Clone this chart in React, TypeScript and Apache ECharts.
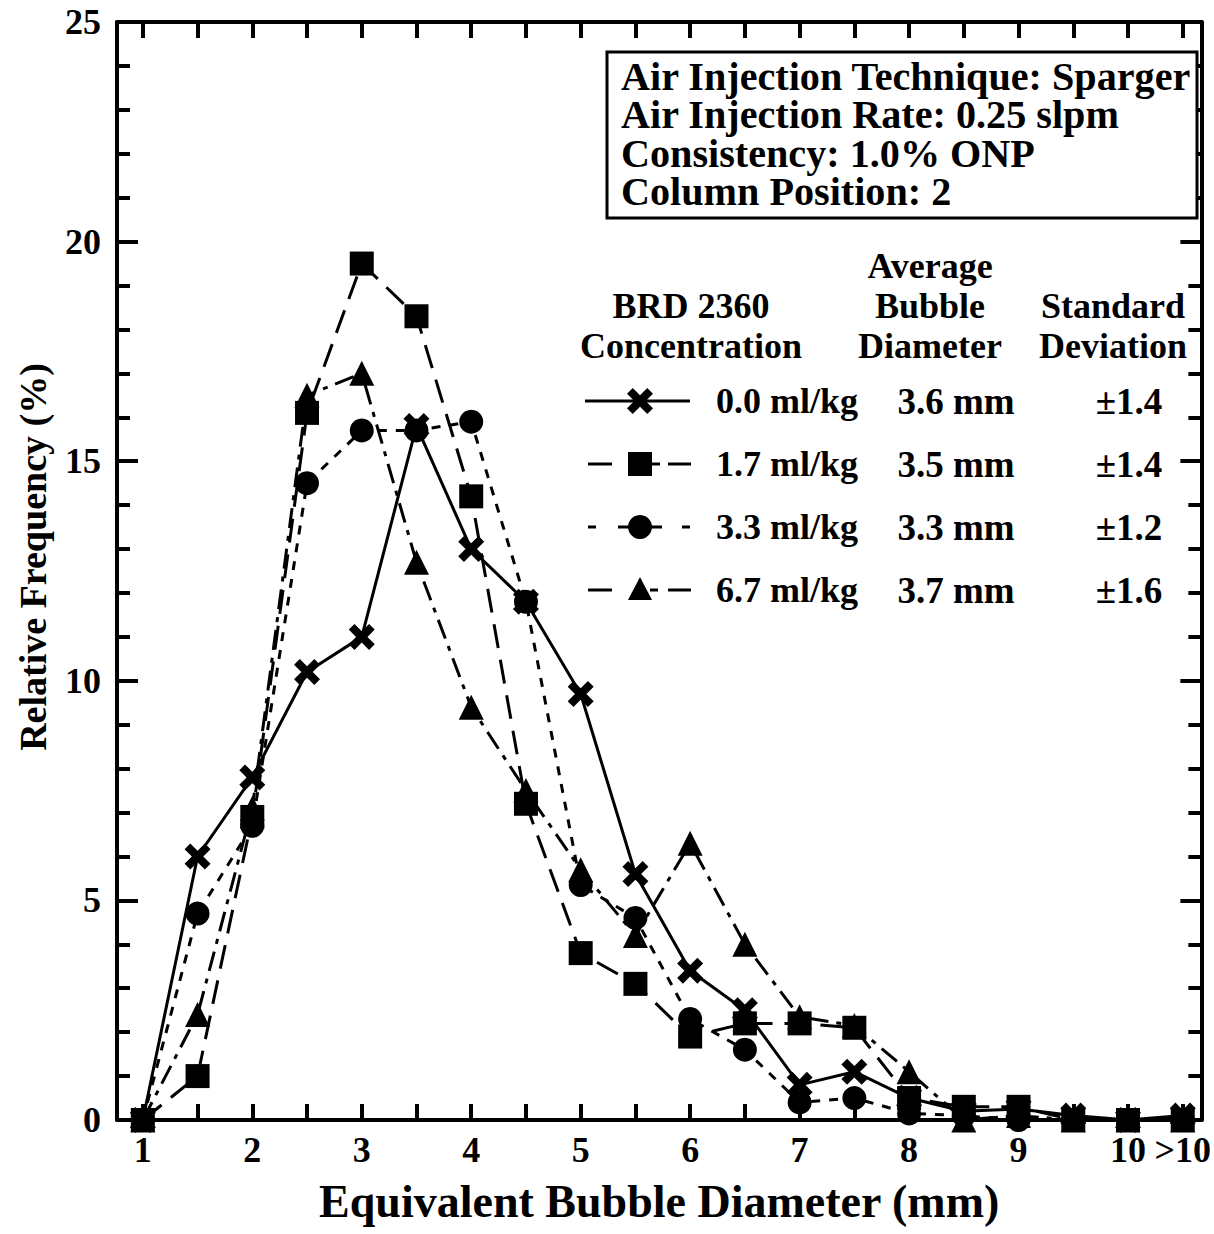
import React, { useEffect, useRef } from "react";
import * as echarts from "echarts";

const xValues = [1, 1.5, 2, 2.5, 3, 3.5, 4, 4.5, 5, 5.5, 6, 6.5, 7, 7.5, 8, 8.5, 9, 9.5, 10, 10.5];
const conc00 = [0, 6.0, 7.8, 10.2, 11.0, 15.8, 13.0, 11.8, 9.7, 5.6, 3.4, 2.5, 0.8, 1.1, 0.5, 0.2, 0.25, 0.1, 0, 0.1];
const conc17 = [0, 1.0, 6.9, 16.1, 19.5, 18.3, 14.2, 7.2, 3.8, 3.1, 1.9, 2.2, 2.2, 2.1, 0.5, 0.3, 0.3, 0, 0, 0];
const conc33 = [0, 4.7, 6.7, 14.5, 15.7, 15.7, 15.9, 11.8, 5.35, 4.6, 2.3, 1.6, 0.4, 0.5, 0.15, 0.1, 0, 0, 0, 0];
const conc67 = [0, 2.4, 7.1, 16.5, 17.0, 12.7, 9.4, 7.5, 5.7, 4.2, 6.3, 4.0, 2.35, 2.15, 1.1, 0, 0.1, 0, 0, 0];

const xTickValues = [1, 1.5, 2, 2.5, 3, 3.5, 4, 4.5, 5, 5.5, 6, 6.5, 7, 7.5, 8, 8.5, 9, 9.5, 10, 10.5];
const xLabelValues = [1, 2, 3, 4, 5, 6, 7, 8, 9, 10, 10.5];
const xLabelTexts = ["1", "2", "3", "4", "5", "6", "7", "8", "9", "10", ">10"];

const seriesNames = ["0.0 ml/kg", "1.7 ml/kg", "3.3 ml/kg", "6.7 ml/kg"];
const avgDiameters = ["3.6 mm", "3.5 mm", "3.3 mm", "3.7 mm"];
const stdDevs = ["\u00b11.4", "\u00b11.4", "\u00b11.2", "\u00b11.6"];
const infoLines = [
  "Air Injection Technique: Sparger",
  "Air Injection Rate: 0.25 slpm",
  "Consistency: 1.0% ONP",
  "Column Position: 2",
];

const FONT = '"Liberation Serif", "Times New Roman", Times, serif';
const X_PATH = "path://M0,2.2L2.2,0L5,2.8L7.8,0L10,2.2L7.2,5L10,7.8L7.8,10L5,7.2L2.2,10L0,7.8L2.8,5Z";

function xPoints(cx: number, cy: number, s: number) {
  const pts = [[0, 2.2], [2.2, 0], [5, 2.8], [7.8, 0], [10, 2.2], [7.2, 5], [10, 7.8], [7.8, 10], [5, 7.2], [2.2, 10], [0, 7.8], [2.8, 5]];
  return pts.map(([a, b]) => [cx + (a - 5) * s / 10, cy + (b - 5) * s / 10]);
}

export default function App() {
  const ref = useRef<HTMLDivElement>(null);
  useEffect(() => {
    if (!ref.current) return;
    const chart = echarts.init(ref.current, undefined, { renderer: "svg" });
    const mk = (vals: number[]) => xValues.map((x, i) => [x, vals[i]]);
    const black = "#000";
    const xMin = 0.764;
    const xMax = 10.67;
    const labelStyle = { fontFamily: FONT, fontWeight: "bold" as const, fontSize: 36, color: black };

    const legendRowsY = [401, 464, 527, 590];
    const graphics: any[] = [];
    // y axis title
    graphics.push({
      type: "text",
      x: 33,
      y: 557,
      rotation: Math.PI / 2,
      style: {
        text: "Relative Frequency (%)",
        font: `bold 38px ${FONT}`,
        fill: black,
        textAlign: "center",
        textVerticalAlign: "middle",
      },
      z: 11,
    });
    // info box
    graphics.push({
      type: "rect",
      shape: { x: 607, y: 52, width: 590, height: 166 },
      style: { fill: "#fff", stroke: black, lineWidth: 3 },
      z: 10,
    });
    infoLines.forEach((t, i) => {
      graphics.push({
        type: "text",
        x: 621,
        y: 77 + i * 38.5,
        style: { text: t, font: `bold 39px ${FONT}`, fill: black, textAlign: "left", textVerticalAlign: "middle" },
        scaleX: 1.03,
        z: 11,
      });
    });
    const header = (t: string, x: number, y: number) =>
      graphics.push({
        type: "text",
        x,
        y,
        style: { text: t, font: `bold 36px ${FONT}`, fill: black, textAlign: "center", textVerticalAlign: "middle" },
        z: 11,
      });
    header("Average", 930, 266);
    header("BRD 2360", 691, 306);
    header("Bubble", 930, 306);
    header("Standard", 1113, 306);
    header("Concentration", 691, 346);
    header("Diameter", 930, 346);
    header("Deviation", 1113, 346);

    const seg = (x1: number, x2: number, y: number) =>
      graphics.push({ type: "line", shape: { x1, y1: y, x2, y2: y }, style: { stroke: black, lineWidth: 3 }, z: 11 });

    legendRowsY.forEach((y, i) => {
      if (i === 0) {
        seg(585, 690, y);
        graphics.push({ type: "polygon", shape: { points: xPoints(640, y, 26) }, style: { fill: black }, z: 12 });
      } else if (i === 1) {
        seg(588, 612, y);
        seg(650, 660, y);
        seg(668, 691, y);
        graphics.push({ type: "rect", shape: { x: 628, y: y - 12, width: 24, height: 24 }, style: { fill: black }, z: 12 });
      } else if (i === 2) {
        seg(588, 596, y);
        seg(618, 662, y);
        seg(682, 690, y);
        graphics.push({ type: "circle", shape: { cx: 640, cy: y, r: 12 }, style: { fill: black }, z: 12 });
      } else {
        seg(588, 612, y);
        seg(650, 658, y);
        seg(668, 691, y);
        graphics.push({
          type: "polygon",
          shape: { points: [[640, y - 13], [628, y + 10], [652, y + 10]] },
          style: { fill: black },
          z: 12,
        });
      }
      graphics.push({
        type: "text",
        x: 716,
        y,
        style: { text: seriesNames[i], font: `bold 36px ${FONT}`, fill: black, textAlign: "left", textVerticalAlign: "middle" },
        z: 11,
      });
      graphics.push({
        type: "text",
        x: 956,
        y,
        style: { text: avgDiameters[i], font: `bold 37px ${FONT}`, fill: black, textAlign: "center", textVerticalAlign: "middle" },
        z: 11,
      });
      graphics.push({
        type: "text",
        x: 1129,
        y,
        style: { text: stdDevs[i], font: `bold 37px ${FONT}`, fill: black, textAlign: "center", textVerticalAlign: "middle" },
        z: 11,
      });
    });

    const xFormatter = (v: number) => {
      const idx = xLabelValues.findIndex((lv) => Math.abs(lv - v) < 1e-6);
      return idx >= 0 ? xLabelTexts[idx] : "";
    };

    const option: any = {
      animation: false,
      backgroundColor: "#fff",
      grid: { left: 117, right: 6, top: 22, bottom: 114, containLabel: false },
      xAxis: [
        {
          type: "value",
          min: xMin,
          max: xMax,
          position: "bottom",
          name: "Equivalent Bubble Diameter (mm)",
          nameLocation: "middle",
          nameGap: 58,
          nameTextStyle: { fontFamily: FONT, fontWeight: "bold", fontSize: 46, color: black },
          axisLine: { show: true, onZero: false, lineStyle: { color: black, width: 4 } },
          axisTick: { show: true, inside: true, length: 16, customValues: xTickValues, lineStyle: { color: black, width: 4 } },
          axisLabel: { ...labelStyle, margin: 12, customValues: xLabelValues, formatter: xFormatter },
          splitLine: { show: false },
        },
        {
          type: "value",
          min: xMin,
          max: xMax,
          position: "top",
          axisLine: { show: true, onZero: false, lineStyle: { color: black, width: 4 } },
          axisTick: { show: true, inside: true, length: 16, customValues: xTickValues, lineStyle: { color: black, width: 4 } },
          axisLabel: { show: false },
          splitLine: { show: false },
        },
      ],
      yAxis: [
        {
          type: "value",
          min: 0,
          max: 25,
          interval: 5,
          position: "left",
          axisLine: { show: true, onZero: false, lineStyle: { color: black, width: 4 } },
          axisTick: { show: true, inside: true, length: 21, lineStyle: { color: black, width: 4 } },
          minorTick: { show: true, splitNumber: 5, length: 13, lineStyle: { color: black, width: 4 } },
          axisLabel: { ...labelStyle, margin: 16 },
          splitLine: { show: false },
        },
        {
          type: "value",
          min: 0,
          max: 25,
          interval: 5,
          position: "right",
          axisLine: { show: true, onZero: false, lineStyle: { color: black, width: 4 } },
          axisTick: { show: true, inside: true, length: 21, lineStyle: { color: black, width: 4 } },
          minorTick: { show: true, splitNumber: 5, length: 13, lineStyle: { color: black, width: 4 } },
          axisLabel: { show: false },
          splitLine: { show: false },
        },
      ],
      series: [
        {
          name: seriesNames[0],
          type: "line",
          data: mk(conc00),
          symbol: X_PATH,
          symbolSize: 26,
          itemStyle: { color: black },
          lineStyle: { color: black, width: 3, type: "solid" },
          z: 5,
        },
        {
          name: seriesNames[1],
          type: "line",
          data: mk(conc17),
          symbol: "rect",
          symbolSize: 24,
          itemStyle: { color: black },
          lineStyle: { color: black, width: 3, type: [24, 12] },
          z: 4,
        },
        {
          name: seriesNames[2],
          type: "line",
          data: mk(conc33),
          symbol: "circle",
          symbolSize: 24,
          itemStyle: { color: black },
          lineStyle: { color: black, width: 3, type: [9, 9] },
          z: 3,
        },
        {
          name: seriesNames[3],
          type: "line",
          data: mk(conc67),
          symbol: "triangle",
          symbolSize: 25,
          itemStyle: { color: black },
          lineStyle: { color: black, width: 3, type: [20, 8, 5, 8] },
          z: 2,
        },
      ],
      graphic: graphics,
    };
    chart.setOption(option);
    return () => chart.dispose();
  }, []);
  return (
    <div
      ref={ref}
      style={{ position: "fixed", left: 0, top: 0, width: 1214, height: 1234, background: "#fff" }}
    />
  );
}
